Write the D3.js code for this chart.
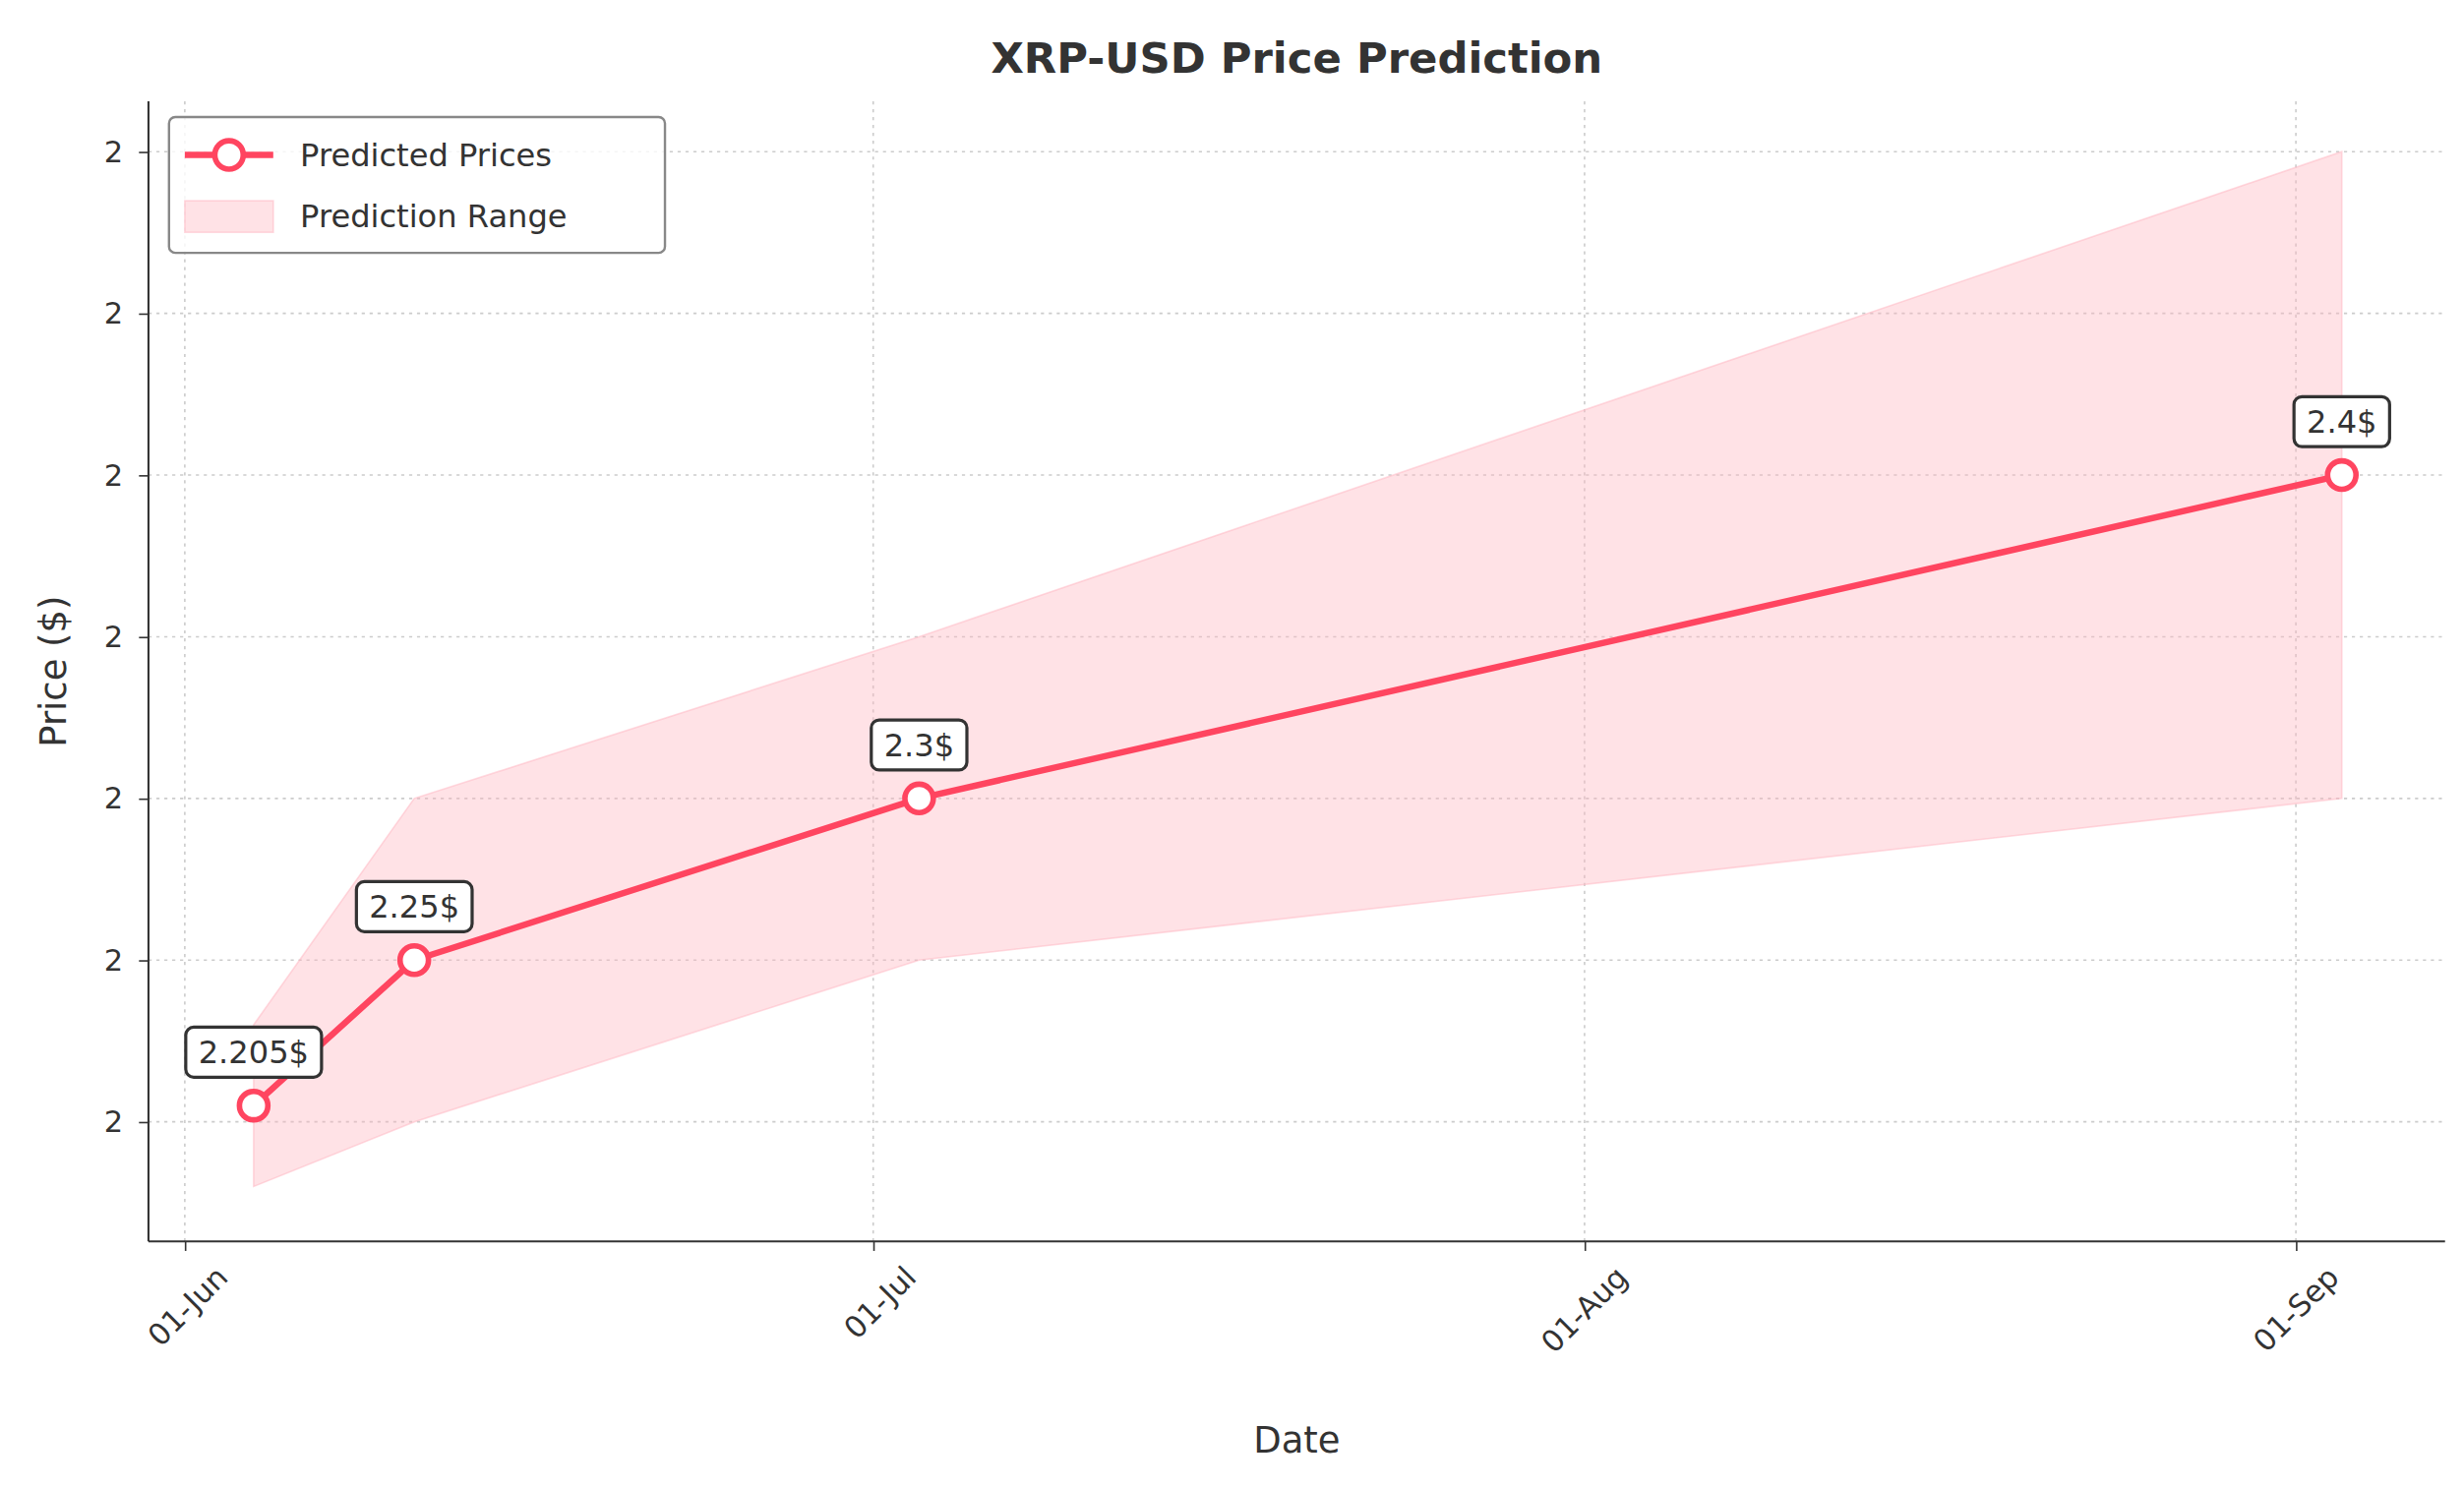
<!DOCTYPE html>
<html><head><meta charset="utf-8">
<script src="https://cdn.jsdelivr.net/npm/d3@7"></script>
<style>
body{margin:0;background:#fff}
text{font-family:"DejaVu Sans",sans-serif;fill:#333}
</style></head><body>
<svg id="chart" width="2505" height="1513" viewBox="0 0 1560 942"></svg>
<script>
// data
var dates = ["2025-06-04", "2025-06-11", "2025-07-03", "2025-09-03"];
var predicted = [2.205, 2.25, 2.3, 2.4];
var lower = [2.18, 2.2, 2.25, 2.3];
var upper = [2.23, 2.3, 2.35, 2.5];
var labels = ["2.205$", "2.25$", "2.3$", "2.4$"];
var yTicks = [2.2, 2.25, 2.3, 2.35, 2.4, 2.45, 2.5];
var xTicks = ["2025-06-01", "2025-07-01", "2025-08-01", "2025-09-01"];

var parse = d3.timeParse("%Y-%m-%d");
var pts = dates.map(function(d, i) {
  return {date: parse(d), v: predicted[i], lo: lower[i], hi: upper[i], label: labels[i]};
});

var svg = d3.select("#chart");
var m = {l: 94, r: 1548, t: 64, b: 786};
var red = "#ff4560";

var x = d3.scaleTime()
  .domain([d3.timeHour.offset(parse("2025-06-01"), -38), d3.timeHour.offset(parse("2025-09-01"), 156)])
  .range([m.l, m.r]);
var y = d3.scaleLinear().domain([2.163, 2.5156]).range([m.b, m.t]);

// grid
svg.append("g").selectAll("line.gy").data(yTicks).enter().append("line")
  .attr("x1", m.l).attr("x2", m.r).attr("y1", y).attr("y2", y)
  .attr("stroke", "#ccc").attr("stroke-dasharray", "2,3");
svg.append("g").selectAll("line.gx").data(xTicks).enter().append("line")
  .attr("x1", function(d) { return x(parse(d)); }).attr("x2", function(d) { return x(parse(d)); })
  .attr("y1", m.t).attr("y2", m.b)
  .attr("stroke", "#ccc").attr("stroke-dasharray", "2,3");

// range band
svg.append("path").datum(pts)
  .attr("d", d3.area().x(function(d) { return x(d.date); })
    .y0(function(d) { return y(d.lo); }).y1(function(d) { return y(d.hi); }))
  .attr("fill", "#ffb6c1").attr("fill-opacity", 0.4)
  .attr("stroke", "#ffb6c1").attr("stroke-opacity", 0.5);

// axes
var yAxis = svg.append("g").attr("transform", "translate(" + m.l + ",0)")
  .call(d3.axisLeft(y).tickValues(yTicks).tickFormat(function(d) { return Math.floor(d); }).tickSize(6).tickPadding(10));
var xAxis = svg.append("g").attr("transform", "translate(0," + m.b + ")")
  .call(d3.axisBottom(x).tickValues(xTicks.map(parse)).tickFormat(d3.timeFormat("%d-%b")).tickSize(6));
[yAxis, xAxis].forEach(function(g) {
  g.select(".domain").attr("stroke", "#333").attr("stroke-width", 1.3);
  g.selectAll(".tick line").attr("stroke", "#333");
  g.selectAll("text").attr("font-size", 19).style("fill", "#333");
});
yAxis.select(".domain").attr("d", "M0," + m.t + "V" + m.b);
xAxis.select(".domain").attr("d", "M" + m.l + ",0H" + m.r);
xAxis.selectAll("text").attr("text-anchor", "end")
  .attr("transform", "translate(12,8) rotate(-45)");

// line + markers
svg.append("path").datum(pts)
  .attr("d", d3.line().x(function(d) { return x(d.date); }).y(function(d) { return y(d.v); }))
  .attr("fill", "none").attr("stroke", red).attr("stroke-width", 4);
svg.selectAll("circle.pt").data(pts).enter().append("circle")
  .attr("cx", function(d) { return x(d.date); }).attr("cy", function(d) { return y(d.v); })
  .attr("r", 9).attr("fill", "#fff").attr("stroke", red).attr("stroke-width", 3.5);

// annotations
var ann = svg.selectAll("g.ann").data(pts).enter().append("g")
  .attr("transform", function(d) { return "translate(" + x(d.date) + "," + (y(d.v) - 34) + ")"; });
ann.append("text").attr("text-anchor", "middle").attr("font-size", 20)
  .attr("dy", "0.35em").text(function(d) { return d.label; });
ann.each(function() {
  var g = d3.select(this), b = g.select("text").node().getBBox();
  g.insert("rect", "text").attr("x", b.x - 8).attr("y", b.y - 4)
    .attr("width", b.width + 16).attr("height", b.height + 8).attr("rx", 5)
    .attr("fill", "#fff").attr("stroke", "#333").attr("stroke-width", 2);
});

// titles
svg.append("text").attr("x", 821).attr("y", 46).attr("text-anchor", "middle")
  .attr("font-size", 27).attr("font-weight", "bold").text("XRP-USD Price Prediction");
svg.append("text").attr("x", 821).attr("y", 920).attr("text-anchor", "middle")
  .attr("font-size", 23).text("Date");
svg.append("text").attr("transform", "translate(42,425) rotate(-90)").attr("text-anchor", "middle")
  .attr("font-size", 23).text("Price ($)");

// legend
var lg = svg.append("g").attr("transform", "translate(107,74)");
lg.append("rect").attr("width", 314).attr("height", 86).attr("rx", 4)
  .attr("fill", "#fff").attr("fill-opacity", 0.8).attr("stroke", "#888").attr("stroke-width", 1.5);
lg.append("line").attr("x1", 10).attr("x2", 66).attr("y1", 24).attr("y2", 24)
  .attr("stroke", red).attr("stroke-width", 4);
lg.append("circle").attr("cx", 38).attr("cy", 24).attr("r", 9)
  .attr("fill", "#fff").attr("stroke", red).attr("stroke-width", 3.5);
lg.append("rect").attr("x", 10).attr("y", 53).attr("width", 56).attr("height", 20)
  .attr("fill", "#ffb6c1").attr("fill-opacity", 0.4).attr("stroke", "#ffb6c1").attr("stroke-opacity", 0.5);
lg.append("text").attr("x", 83).attr("y", 31).attr("font-size", 20).text("Predicted Prices");
lg.append("text").attr("x", 83).attr("y", 70).attr("font-size", 20).text("Prediction Range");
</script>
</body></html>
